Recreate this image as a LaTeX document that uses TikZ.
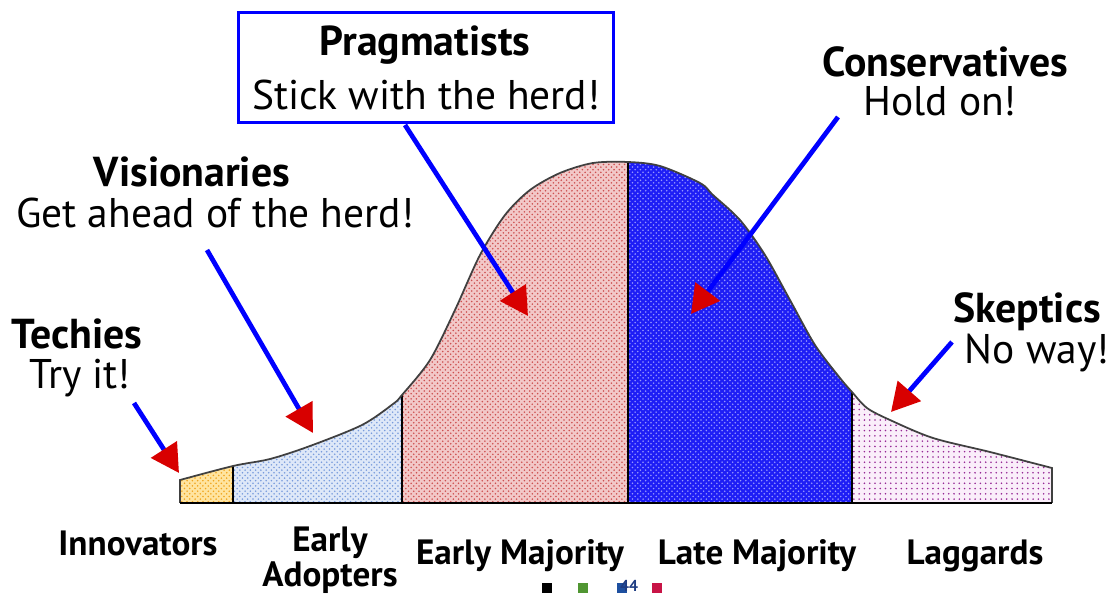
\documentclass[tikz,border=0pt]{standalone}
\usepackage{fontspec}
\setmainfont{PT Sans}
\usetikzlibrary{arrows.meta,patterns}

\definecolor{arrowred}{HTML}{D80000}
\definecolor{curvegray}{HTML}{404040}

\begin{document}
\begin{tikzpicture}[
    x=0.02cm, y=-0.02cm,
    head/.style={font=\fontsize{23.8}{28}\selectfont\bfseries, inner sep=0pt},
    say/.style={font=\fontsize{23.6}{28}\selectfont, inner sep=0pt},
    group/.style={font=\fontsize{20}{20}\selectfont\bfseries, inner sep=0pt, align=center},
    point/.style={draw=blue, line width=2.7pt,
                  -{Triangle[length=0.56cm, width=0.6cm, color=arrowred]}},
    innov/.style={fill={rgb,255:red,255;green,228;blue,160},
                  postaction={pattern=crosshatch dots, pattern color={rgb,255:red,240;green,165;blue,30}}},
    adopt/.style={fill={rgb,255:red,222;green,232;blue,248},
                  postaction={pattern=crosshatch dots, pattern color={rgb,255:red,120;green,155;blue,220}}},
    early/.style={fill={rgb,255:red,242;green,200;blue,200},
                  postaction={pattern=crosshatch dots, pattern color={rgb,255:red,205;green,80;blue,80}}},
    late/.style={fill={rgb,255:red,30;green,30;blue,245},
                 postaction={pattern=crosshatch dots, pattern color={rgb,255:red,150;green,150;blue,255}}},
    lag/.style={fill={rgb,255:red,250;green,238;blue,250},
                postaction={pattern=dots, pattern color={rgb,255:red,150;green,40;blue,150}}},
    swatch/.style={minimum size=0.2cm, inner sep=0pt}
  ]
    \useasboundingbox (0,0) rectangle (1117,594);
    \def\bell{(180,503) -- plot[smooth, tension=0.5] coordinates {(180,480) (233,466) (270,459) (310,446)
      (362,425) (393,404) (402,395) (430,360) (455,310) (480,255) (505,215) (530,190)
      (560,173) (593,163) (628,162) (660,166) (700,183) (713,195) (740,220) (765,255)
      (790,300) (815,345) (840,378) (852,392) (867,408) (890,420) (933,438) (990,452)
      (1052,468)} -- (1052,503)}

    % segments under the curve
    \begin{scope}
      \clip \bell -- cycle;
      \fill[innov] (180,150) rectangle (233,503);
      \fill[adopt] (233,150) rectangle (402,503);
      \fill[early] (402,150) rectangle (628,503);
      \fill[late]  (628,150) rectangle (852,503);
      \fill[lag]   (852,150) rectangle (1052,503);
      \foreach \x in {233,402,628,852}
        \draw[line width=0.8pt] (\x,150) -- (\x,503);
    \end{scope}
    \draw[curvegray, line width=1pt] \bell;
    \draw[line width=1pt] (180,503) -- (1052,503);

    % callouts
    \node[draw=blue, line width=1.9pt, minimum width=7.5cm, minimum height=2.2cm]
      (pragbox) at (426,67.5) {};
    \node[head] (prag) at (425,45) {Pragmatists};
    \node[say]  (pragsay) at (426,95) {Stick with the herd!};

    \node[head] (vis) at (192,172) {Visionaries};
    \node[say]  (vissay) at (215,213) {Get ahead of the herd!};

    \node[head] (tech) at (77,334) {Techies};
    \node[say]  (techsay) at (80,378) {Try it!};

    \node[head] (cons) at (945,62) {Conservatives};
    \node[say]  (conssay) at (940,101) {Hold on!};

    \node[head] (skep) at (1027,312) {Skeptics};
    \node[say]  (skepsay) at (1037,353) {No way!};

    % segment names
    \node[group] (innovators) at (138,543) {Innovators};
    \node[group] (adopters) at (330,560) {Early\\Adopters};
    \node[group] (earlymaj) at (520,556) {Early Majority};
    \node[group] (latemaj) at (757,556) {Late Majority};
    \node[group] (laggards) at (975,556) {Laggards};

    % arrows
    \coordinate (techtail) at (134,403);  \coordinate (techtip) at (179,473);
    \coordinate (vistail)  at (207,250);  \coordinate (vistip)  at (313,433);
    \coordinate (pragtail) at (405,125);  \coordinate (pragtip) at (528,316);
    \coordinate (constail) at (838,117);  \coordinate (constip) at (691,314);
    \coordinate (skeptail) at (952,342);  \coordinate (skeptip) at (891,412);
    \draw[point] (techtail) -- (techtip);
    \draw[point] (vistail)  -- (vistip);
    \draw[point] (pragtail) -- (pragtip);
    \draw[point] (constail) -- (constip);
    \draw[point] (skeptail) -- (skeptip);

    % slide marks
    \node[swatch, fill=black] (m1) at (547,588) {};
    \node[swatch, fill={rgb,255:red,80;green,150;blue,50}] (m2) at (583,588) {};
    \node[swatch, fill={rgb,255:red,30;green,80;blue,160}] (m3) at (622,588) {};
    \node[font=\fontsize{9}{9}\selectfont\bfseries, text={rgb,255:red,30;green,60;blue,130},
          inner sep=0pt] (pageno) at (629,586) {44};
    \node[swatch, fill={rgb,255:red,200;green,20;blue,70}] (m4) at (657,588) {};
\end{tikzpicture}
\end{document}
